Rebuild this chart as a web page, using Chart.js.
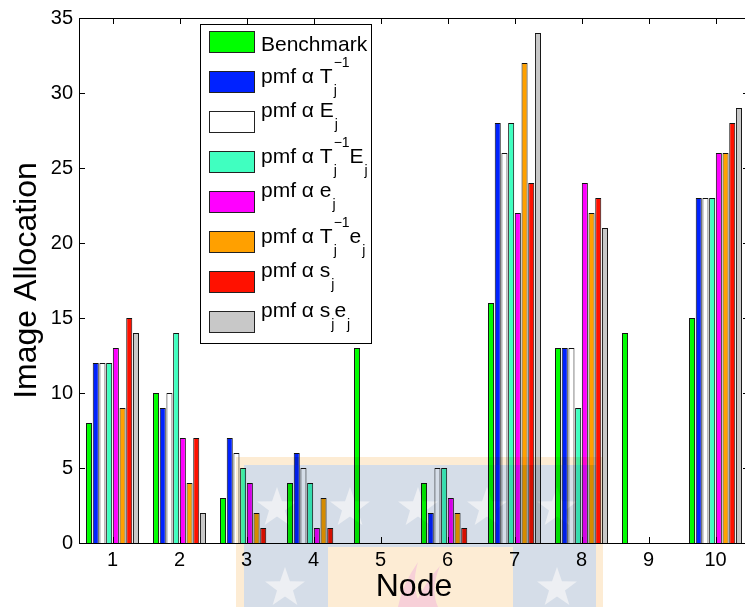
<!DOCTYPE html>
<html>
<head>
<meta charset="utf-8">
<script src="https://cdn.jsdelivr.net/npm/chart.js@4/dist/chart.umd.min.js"></script>
<style>
  html,body{margin:0;padding:0;background:#fff;overflow:hidden;}
  #wrap{width:752px;height:607px;}
</style>
</head>
<body>
<div id="wrap"><canvas id="grafico" width="752" height="607"></canvas></div>
<script>
// nodes on the x axis
const nodes = [1,2,3,4,5,6,7,8,9,10];

// image allocation per node, one array per policy
const benchmark = [8,10,3,4,13,4,16,13,14,15];
const pmfTinv   = [12,9,7,6,0,2,28,13,0,23];
const pmfE      = [12,10,6,5,0,5,26,13,0,23];
const pmfTinvE  = [12,14,5,4,0,5,28,9,0,23];
const pmfe      = [13,7,4,1,0,3,22,24,0,26];
const pmfTinve  = [9,4,2,3,0,2,32,22,0,26];
const pmfs      = [15,7,1,1,0,1,24,23,0,28];
const pmfse     = [14,2,0,0,0,0,34,21,0,29];

// legend names (tex-ish: _ sub, ^ sup)
const nomes = ['Benchmark','pmf α T_j^{-1}','pmf α E_j','pmf α T_j^{-1}E_j','pmf α e_j','pmf α T_j^{-1}e_j','pmf α s_j','pmf α s_je_j'];
const cores = ['#00ff00','#0022ff','#ffffff','#40ffc0','#ff00ff','#ffa000','#ff1100','#c8c8c8'];
const series = [benchmark,pmfTinv,pmfE,pmfTinvE,pmfe,pmfTinve,pmfs,pmfse];

const yTicks = [0,5,10,15,20,25,30,35];
const FONTE = '"Liberation Sans", Arial, Helvetica, sans-serif';

function parseTex(s){
    const out=[]; let buf=''; let i=0;
    while(i<s.length){
        const c=s[i];
        if(c==='_'||c==='^'){
            if(buf){out.push({t:buf,m:'n'}); buf='';}
            let arg;
            if(s[i+1]==='{'){const j=s.indexOf('}',i); arg=s.slice(i+2,j); i=j+1;}
            else {arg=s[i+1]; i+=2;}
            out.push({t:arg.replace('-','−'), m:c==='_'?'sub':'sup'});
        } else {buf+=c; i++;}
    }
    if(buf) out.push({t:buf,m:'n'});
    return out;
}

// legend drawn by hand (sub/superscripts)
const legendaPlugin = {
    id:'legenda',
    afterDatasetsDraw(chart){
        const ctx=chart.ctx;
        ctx.save();
        ctx.fillStyle='#fff';
        ctx.fillRect(200.5,24.5,171,319);
        ctx.strokeStyle='#000'; ctx.lineWidth=1;
        ctx.strokeRect(200.5,24.5,171,319);
        nomes.forEach((nome,i)=>{
            const top=31.5+i*40;
            const cy=top+10.5;
            ctx.fillStyle=cores[i];
            ctx.fillRect(209.5,top,45,21);
            ctx.strokeStyle='#222';
            ctx.strokeRect(209.5,top,45,21);
            const segs=parseTex(nome);
            const temSub=segs.some(s=>s.m==='sub'), temSup=segs.some(s=>s.m==='sup');
            let base = temSub&&temSup ? cy+1 : (temSub ? cy-5 : cy+9);
            let x=261, scriptX=null, scriptW=0, prev='n';
            ctx.fillStyle='#000';
            ctx.textBaseline='alphabetic'; ctx.textAlign='left';
            segs.forEach(sg=>{
                if(sg.m==='n'){
                    if(scriptX!==null){x=scriptX+scriptW; scriptX=null; scriptW=0;}
                    ctx.font='21px '+FONTE;
                    ctx.fillText(sg.t,x,base);
                    x+=ctx.measureText(sg.t).width;
                } else {
                    ctx.font='14px '+FONTE;
                    if(scriptX===null){scriptX=x+1; scriptW=0;}
                    const yy = sg.m==='sub' ? base+12 : base-16;
                    ctx.fillText(sg.t,scriptX,yy);
                    scriptW=Math.max(scriptW,ctx.measureText(sg.t).width);
                }
                prev=sg.m;
            });
        });
        ctx.restore();
    }
};

// box and inward ticks, matlab style
const eixosPlugin = {
    id:'eixos',
    afterDatasetsDraw(chart){
        const ctx=chart.ctx, a=chart.chartArea;
        const sx=chart.scales.x, sy=chart.scales.y;
        ctx.save();
        ctx.strokeStyle='#000'; ctx.lineWidth=1;
        ctx.beginPath();
        nodes.forEach(n=>{
            const px=Math.round(sx.getPixelForValue(n))+0.5;
            ctx.moveTo(px,a.bottom); ctx.lineTo(px,a.bottom-6);
            ctx.moveTo(px,a.top); ctx.lineTo(px,a.top+6);
        });
        yTicks.forEach(v=>{
            const py=Math.round(sy.getPixelForValue(v))+0.5;
            ctx.moveTo(a.left,py); ctx.lineTo(a.left+6,py);
            ctx.moveTo(a.right,py); ctx.lineTo(a.right-6,py);
        });
        ctx.stroke();
        ctx.strokeRect(Math.round(a.left)+0.5,Math.round(a.top)+0.5,Math.round(a.right-a.left),Math.round(a.bottom-a.top));
        ctx.restore();
    }
};

// faint logo watermark on top of the page
function estrela(c,x,y,r){
    c.beginPath();
    for(let k=0;k<10;k++){
        const ang=-Math.PI/2+k*Math.PI/5;
        const rr=k%2===0?r:r*0.4;
        c.lineTo(x+rr*Math.cos(ang),y+rr*Math.sin(ang));
    }
    c.closePath(); c.fill();
}
const marcaPlugin = {
    id:'marca',
    afterDraw(chart){
        const off=document.createElement('canvas');
        off.width=chart.width; off.height=chart.height;
        const c=off.getContext('2d');
        c.fillStyle='rgb(253,236,212)';
        c.fillRect(236,457,367,150);
        c.fillStyle='rgb(213,221,232)';
        c.fillRect(244,465,352,82);
        c.fillRect(244,547,84,60);
        c.fillRect(513,547,83,60);
        c.fillStyle='rgb(237,239,243)';
        [[277,508],[350,508],[418,508],[487,508],[557,508],[285,588],[557,588]].forEach(p=>estrela(c,p[0],p[1],21));
        c.fillStyle='rgb(247,208,216)';
        c.beginPath();
        c.moveTo(398,607); c.quadraticCurveTo(402,585,418,562); c.quadraticCurveTo(410,588,422,607); c.closePath(); c.fill();
        c.beginPath();
        c.moveTo(414,607); c.quadraticCurveTo(425,582,440,566); c.quadraticCurveTo(430,590,438,607); c.closePath(); c.fill();
        const ctx=chart.ctx;
        ctx.save();
        ctx.globalCompositeOperation='multiply';
        ctx.drawImage(off,0,0);
        ctx.restore();
    }
};

const datasets = series.map((vals,i)=>({
    label:nomes[i],
    data:nodes.map((n,k)=>({x:n,y:vals[k]})),
    backgroundColor:cores[i],
    borderColor:'#111',
    borderWidth:1,
    categoryPercentage:0.8,
    barPercentage:0.9
}));

new Chart(document.getElementById('grafico'),{
    type:'bar',
    data:{datasets},
    plugins:[legendaPlugin,eixosPlugin,marcaPlugin],
    options:{
        responsive:false,
        animation:false,
        layout:{padding:{top:14,right:3,left:0,bottom:0}},
        plugins:{legend:{display:false},tooltip:{enabled:false}},
        scales:{
            x:{
                type:'linear', offset:false, min:0.5, max:10.5,
                afterBuildTicks(s){ s.ticks = nodes.map(n=>({value:n})); },
                afterFit(s){ s.height=64; },
                grid:{display:false,drawTicks:false}, border:{display:false},
                ticks:{stepSize:1, padding:5, color:'#000', font:{family:FONTE,size:20}},
                title:{display:true,text:'Node',color:'#000',font:{family:FONTE,size:32},padding:{top:0,bottom:1}}
            },
            y:{
                min:0, max:35,
                afterBuildTicks(s){ s.ticks = yTicks.map(v=>({value:v})); },
                afterFit(s){ s.width=79; },
                grid:{display:false,drawTicks:false}, border:{display:false},
                ticks:{padding:6, color:'#000', font:{family:FONTE,size:20}},
                title:{display:true,text:'Image Allocation',color:'#000',font:{family:FONTE,size:32},padding:{top:8,bottom:0}}
            }
        }
    }
});
</script>
</body>
</html>
